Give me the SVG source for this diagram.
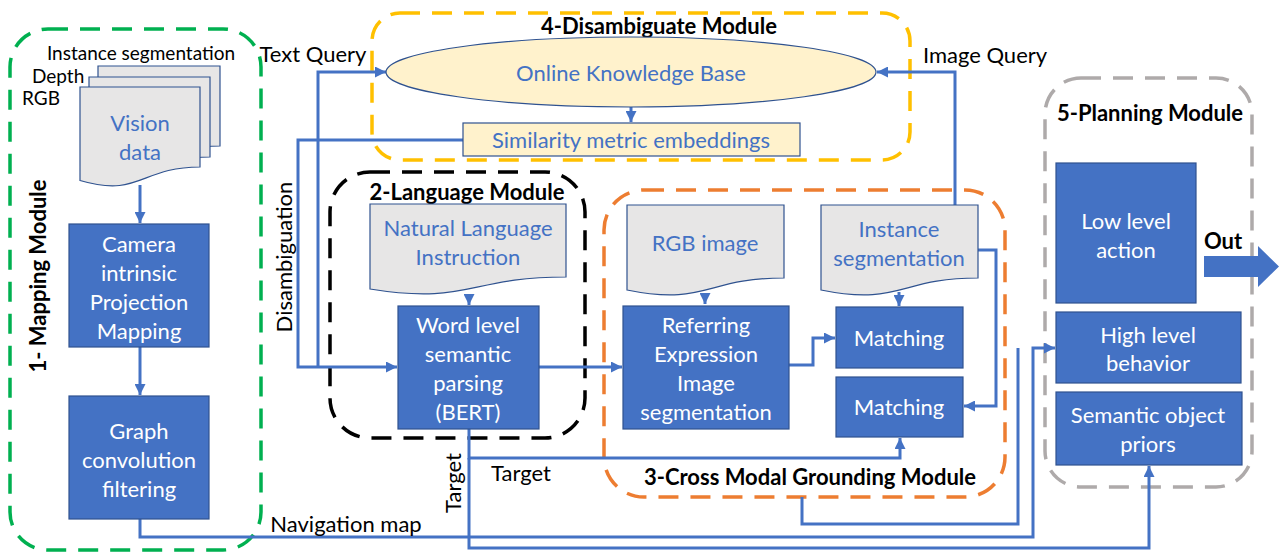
<svg xmlns="http://www.w3.org/2000/svg" width="1280" height="557" viewBox="0 0 1280 557">
<style>
  .box { fill: #4472C4; stroke: #2F528F; stroke-width: 1.2; }
  .doc { fill: #E7E6E6; stroke: #2F528F; stroke-width: 1.2; }
  .wt { font-family: Lato, "Noto Sans", sans-serif; font-size: 22px; fill: #FFFFFF; text-anchor: middle; dominant-baseline: central; }
  .bt { font-family: Lato, "Noto Sans", sans-serif; font-size: 22px; fill: #4472C4; text-anchor: middle; dominant-baseline: central; }
  .lbl { font-family: Lato, "Noto Sans", sans-serif; font-size: 22px; fill: #000000; dominant-baseline: central; }
  .sl { font-family: Lato, "Noto Sans", sans-serif; font-size: 19px; fill: #000000; dominant-baseline: central; }
  .ttl { font-family: Lato, "Noto Sans", sans-serif; font-size: 22px; font-weight: bold; fill: #000000; text-anchor: middle; dominant-baseline: central; }
  .mod { fill: none; stroke-width: 3.5; stroke-dasharray: 20 12; }
  .con { fill: none; stroke: #4472C4; stroke-width: 3; }
  .cona { fill: none; stroke: #4472C4; stroke-width: 3; marker-end: url(#ah); }
</style>
<defs>
  <marker id="ah" viewBox="0 0 10 10" refX="10" refY="5" markerWidth="11" markerHeight="11" markerUnits="userSpaceOnUse" orient="auto">
    <path d="M0,0 L10,5 L0,10 z" fill="#4472C4"/>
  </marker>
</defs>
<rect width="1280" height="557" fill="#FFFFFF"/>

<!-- Module containers -->
<g id="module1-mapping">
  <rect class="mod" x="10" y="29" width="251" height="521" rx="38" stroke="#00B050"/>
  <text class="ttl" transform="translate(37,276) rotate(-90)">1- Mapping Module</text>
</g>
<g id="module4-disambiguate">
  <rect class="mod" x="372" y="13" width="538" height="147" rx="28" stroke="#FFC000"/>
  <text class="ttl" x="659" y="25">4-Disambiguate Module</text>
</g>
<g id="module2-language">
  <rect class="mod" x="330" y="172" width="255" height="266" rx="40" stroke="#000000" stroke-width="4"/>
  <text class="ttl" x="467" y="191">2-Language Module</text>
</g>
<g id="module3-grounding">
  <rect class="mod" x="604" y="190" width="401" height="307" rx="40" stroke="#ED7D31"/>
  <text class="ttl" x="810" y="476">3-Cross Modal Grounding Module</text>
</g>
<g id="module5-planning">
  <rect class="mod" x="1045" y="78" width="207" height="409" rx="36" stroke="#AEAAAA"/>
  <text class="ttl" x="1150" y="112">5-Planning Module</text>
</g>

<!-- Connectors -->
<g id="connectors">
  <path class="cona" d="M140,185 V223"/>
  <path class="cona" d="M140,347 V395"/>
  <path class="cona" d="M140,519 V537 H1033 V348 H1055"/>
  <path class="con" d="M802,497 V524 H1018 V348"/>
  <path class="cona" d="M631,107 V122"/>
  <path class="cona" d="M463,140 H298 V367 H397"/>
  <path class="cona" d="M318,367 V72 H386"/>
  <path class="cona" d="M955,205 V72 H877"/>
  <path class="cona" d="M469,294 V305"/>
  <path class="cona" d="M539,367 H622"/>
  <path class="cona" d="M705,295 V304"/>
  <path class="cona" d="M899,292 V306"/>
  <path class="cona" d="M789,365 H813 V338 H835"/>
  <path class="cona" d="M978,250 H996 V406 H964"/>
  <path class="cona" d="M469,429 V458 H900 V438"/>
  <path class="cona" d="M469,458 V548 H1149 V466"/>
  <path d="M1204,256 H1258 V246 L1279,266.5 L1258,287 V277 H1204 Z" fill="#4472C4"/>
  <text class="lbl" x="313" y="53" text-anchor="middle">Text Query</text>
  <text class="lbl" x="985" y="54" text-anchor="middle">Image Query</text>
  <text class="lbl" transform="translate(283,257) rotate(-90)" text-anchor="middle">Disambiguation</text>
  <text class="lbl" x="521" y="472" text-anchor="middle">Target</text>
  <text class="lbl" transform="translate(452,483) rotate(-90)" text-anchor="middle">Target</text>
  <text class="lbl" x="346" y="523" text-anchor="middle">Navigation map</text>
  <text class="ttl" x="1223" y="240">Out</text>
</g>

<!-- Module 1 nodes -->
<g id="vision-data">
  <path class="doc" d="M98,66 H220 V146 C159,146 159,177 98,159.5 Z"/>
  <path class="doc" d="M89,77 H210 V157 C149.5,157 149.5,188 89,170.5 Z"/>
  <path class="doc" d="M80,87 H200 V167 C140,167 140,198 80,180.5 Z"/>
  <text class="bt" x="140" y="122">Vision</text>
  <text class="bt" x="140" y="151">data</text>
  <text class="sl" x="141" y="52" text-anchor="middle">Instance segmentation</text>
  <text class="sl" x="32" y="75">Depth</text>
  <text class="sl" x="22" y="97">RGB</text>
</g>
<g id="camera-projection">
  <rect class="box" x="69" y="224" width="140" height="123"/>
  <text class="wt" x="139" y="243">Camera</text>
  <text class="wt" x="139" y="272">intrinsic</text>
  <text class="wt" x="139" y="301">Projection</text>
  <text class="wt" x="139" y="330">Mapping</text>
</g>
<g id="graph-convolution">
  <rect class="box" x="69" y="396" width="140" height="123"/>
  <text class="wt" x="139" y="430">Graph</text>
  <text class="wt" x="139" y="459">convolution</text>
  <text class="wt" x="139" y="488">filtering</text>
</g>

<!-- Module 4 nodes -->
<g id="online-knowledge-base">
  <ellipse cx="631" cy="72" rx="245" ry="35" fill="#FFF2CC" stroke="#2F528F" stroke-width="1.2"/>
  <text class="bt" x="631" y="72">Online Knowledge Base</text>
</g>
<g id="similarity-embeddings">
  <rect x="463" y="123" width="337" height="33" fill="#FFF2CC" stroke="#2F528F" stroke-width="1.2"/>
  <text class="bt" x="631" y="139">Similarity metric embeddings</text>
</g>

<!-- Module 2 nodes -->
<g id="natural-language-instruction">
  <path class="doc" d="M370,204 H566 V277 C468,277 468,305 370,289 Z"/>
  <text class="bt" x="468" y="227">Natural Language</text>
  <text class="bt" x="468" y="256">Instruction</text>
</g>
<g id="bert-parsing">
  <rect class="box" x="398" y="306" width="141" height="123"/>
  <text class="wt" x="468" y="324">Word level</text>
  <text class="wt" x="468" y="353">semantic</text>
  <text class="wt" x="468" y="382">parsing</text>
  <text class="wt" x="468" y="411">(BERT)</text>
</g>

<!-- Module 3 nodes -->
<g id="rgb-image">
  <path class="doc" d="M627,205 H784 V278 C705.5,278 705.5,306 627,290 Z"/>
  <text class="bt" x="705" y="242">RGB image</text>
</g>
<g id="instance-segmentation">
  <path class="doc" d="M821,205 H978 V278 C899.5,278 899.5,306 821,290 Z"/>
  <text class="bt" x="899" y="228">Instance</text>
  <text class="bt" x="899" y="257">segmentation</text>
</g>
<g id="referring-expression">
  <rect class="box" x="623" y="306" width="166" height="123"/>
  <text class="wt" x="706" y="324">Referring</text>
  <text class="wt" x="706" y="353">Expression</text>
  <text class="wt" x="706" y="382">Image</text>
  <text class="wt" x="706" y="411">segmentation</text>
</g>
<g id="matching-1">
  <rect class="box" x="836" y="307" width="127" height="61"/>
  <text class="wt" x="899" y="337">Matching</text>
</g>
<g id="matching-2">
  <rect class="box" x="836" y="377" width="127" height="60"/>
  <text class="wt" x="899" y="406">Matching</text>
</g>

<!-- Module 5 nodes -->
<g id="low-level-action">
  <rect class="box" x="1056" y="163" width="140" height="140"/>
  <text class="wt" x="1126" y="220">Low level</text>
  <text class="wt" x="1126" y="249">action</text>
</g>
<g id="high-level-behavior">
  <rect class="box" x="1056" y="312" width="185" height="71"/>
  <text class="wt" x="1148" y="334">High level</text>
  <text class="wt" x="1148" y="362">behavior</text>
</g>
<g id="semantic-object-priors">
  <rect class="box" x="1056" y="392" width="186" height="73"/>
  <text class="wt" x="1148" y="414">Semantic object</text>
  <text class="wt" x="1148" y="443">priors</text>
</g>
</svg>
